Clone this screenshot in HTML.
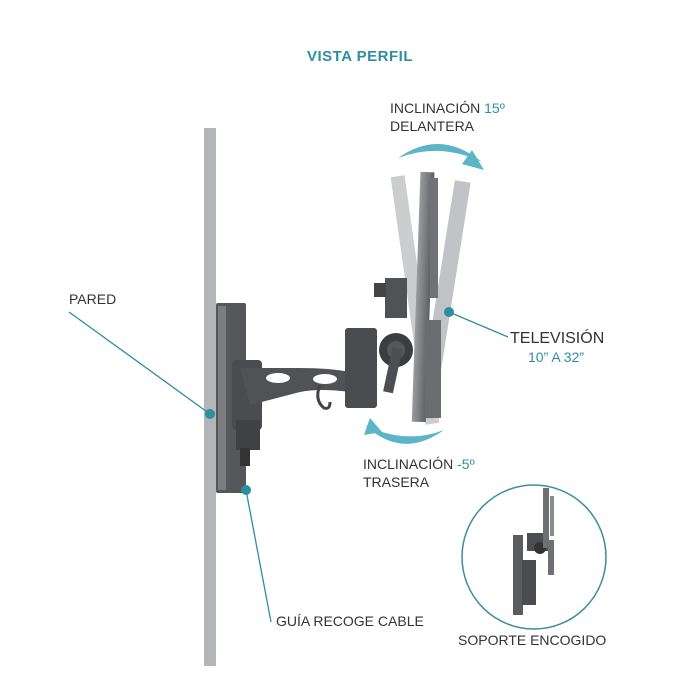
<!DOCTYPE html>
<html><head><style>
body{margin:0;background:#fff;}
svg{display:block}
text{font-family:"Liberation Sans",sans-serif;}
</style></head><body>
<svg width="700" height="700" viewBox="0 0 700 700">
<defs>
<linearGradient id="tv" x1="0" x2="1"><stop offset="0" stop-color="#9a9ca0"/><stop offset="1" stop-color="#5c5e62"/></linearGradient>
</defs>
<text x="360" y="61" text-anchor="middle" font-size="15" font-weight="bold" fill="#2b8fa1" letter-spacing="0.5">VISTA PERFIL</text>
<rect x="204" y="128" width="12" height="538" fill="#b3b5b9"/>
<rect x="216" y="303" width="30" height="190" rx="2" fill="#55575b"/>
<rect x="218" y="306" width="8" height="184" fill="#7a7c80"/>
<rect x="232" y="360" width="30" height="70" rx="4" fill="#4a4c50"/>
<rect x="236" y="420" width="24" height="30" fill="#3f4145"/>
<path d="M240 368 L300 368 Q330 368 350 372 L350 392 Q320 388 300 392 L250 405 Z" fill="#505256"/>
<ellipse cx="278" cy="378" rx="12" ry="5" fill="#fff"/>
<ellipse cx="325" cy="379" rx="12" ry="5" fill="#fff"/>
<path d="M320 385 q-6 15 4 23 q6 2 6 -6" fill="none" stroke="#444" stroke-width="3"/>
<rect x="345" y="328" width="32" height="80" rx="3" fill="#4a4c50"/>
<rect x="240" y="448" width="10" height="18" fill="#333"/>
<g opacity="0.7">
<rect x="408" y="175" width="14" height="250" fill="#b6b8bb" transform="rotate(-8 415 300)"/>
<rect x="436" y="180" width="16" height="240" fill="#a8aaae" transform="rotate(9 444 300)"/>
</g>
<rect x="416" y="172" width="14" height="250" fill="url(#tv)" transform="rotate(2 423 300)"/>
<rect x="430" y="178" width="8" height="120" fill="#707276"/>
<rect x="425" y="320" width="16" height="98" fill="#6a6c70"/>
<circle cx="396" cy="350" r="17" fill="#3b3d41"/>
<circle cx="396" cy="350" r="9" fill="#55575b"/>
<rect x="385" y="278" width="22" height="40" fill="#505256"/>
<rect x="374" y="283" width="12" height="14" fill="#444"/>
<rect x="392" y="348" width="10" height="45" fill="#4c4e52" transform="rotate(12 396 350)"/>
<path d="M398 158 Q440 128 482 162 Q440 142 398 158Z" fill="#5cb5c7"/>
<path d="M472 150 L484 170 L462 164Z" fill="#5cb5c7"/>
<path d="M365 425 Q402 460 444 430 Q405 445 365 425Z" fill="#5cb5c7"/>
<path d="M364 435 L370 418 L382 432Z" fill="#5cb5c7"/>
<text x="390" y="113" font-size="14" fill="#333">INCLINACIÓN <tspan fill="#2b8fa1">15º</tspan></text>
<text x="390" y="131" font-size="14" fill="#333">DELANTERA</text>
<text x="363" y="469" font-size="14" fill="#333">INCLINACIÓN <tspan fill="#2b8fa1">-5º</tspan></text>
<text x="363" y="487" font-size="14" fill="#333">TRASERA</text>
<text x="69" y="304" font-size="14" fill="#333">PARED</text>
<text x="510" y="343" font-size="16" fill="#333">TELEVISIÓN</text>
<text x="528" y="362" font-size="14" fill="#2b8fa1">10” A 32”</text>
<text x="276" y="626" font-size="14" fill="#333">GUÍA RECOGE CABLE</text>
<text x="458" y="645" font-size="14" fill="#333">SOPORTE ENCOGIDO</text>
<g stroke="#2b8fa1" stroke-width="1.3" fill="none">
<path d="M69 312 L210 414"/>
<path d="M449 312 L508 337"/>
<path d="M246 490 L271 622"/>
</g>
<g fill="#2b8fa1">
<circle cx="210" cy="414" r="5"/>
<circle cx="449" cy="312" r="5"/>
<circle cx="246" cy="490" r="5"/>
</g>
<circle cx="534" cy="557" r="72" fill="#fff" stroke="#3a8f9b" stroke-width="1.5"/>
<rect x="513" y="535" width="10" height="80" fill="#5a5c60"/>
<rect x="522" y="560" width="14" height="45" fill="#4a4c50"/>
<rect x="527" y="533" width="22" height="18" fill="#4c4e52"/>
<circle cx="540" cy="548" r="6" fill="#333"/>
<rect x="543" y="488" width="6" height="60" fill="#6e7074"/>
<rect x="550" y="496" width="4" height="40" fill="#8a8c90"/>
<rect x="548" y="540" width="6" height="35" fill="#6e7074"/>
</svg>
</body></html>
